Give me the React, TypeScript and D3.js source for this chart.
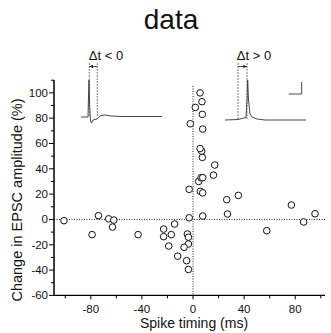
import React from "react";
import * as d3 from "d3";

const W = 331;
const H = 333;

// Scatter data: spike timing (ms) vs change in EPSC amplitude (%)
const spikeTiming = [
  -101, -79, -74, -66, -62, -63, -43, -23, -23, -19, -17, -14.4, -12, -4.4, -3.6,
  -3.6, -7, -5, -3.6, -3, 7.6, 27, 26.4, 35.5, 57.7, 77, 86.6, 95.5, -3, 5.7, 7.6,
  4.4, 6.3, 7.6, 16, 17, 7.3, 6.8, 5.5, 7.6, -2.1, 7.3, 1.8, 7, 5.5,
];
const epscChange = [
  -1, -12, 3, 0.5, -0.5, -6, -12, -7.6, -13.6, -21, -12, -3.6, -29, -11.5, -14,
  -19.4, -22, -32.6, -39.5, 1.3, 2.7, 4.3, 15.6, 19, -8.9, 11.4, -2, 4.5, 23.8, 22.2,
  21, 30, 33, 33, 35, 43, 49, 54, 56, 71.4, 75.6, 83, 88.5, 93, 100,
];

const xTickLabels = [-80, -40, 0, 40, 80];
const xMinorTicks = [-100, -60, -20, 20, 60, 100];
const yTickLabels = [-60, -40, -20, 0, 20, 40, 60, 80, 100];
const yMinorTicks = [-50, -30, -10, 10, 30, 50, 70, 90, 110];

// Inset traces (time, voltage) in arbitrary units
const traceLeft: [number, number][] = [
  [0, 0], [7, 0], [7.5, 20], [8, 37], [8.7, 10], [9.5, -4], [10.5, -6], [12, -3],
  [16, -2], [17, -1], [20, 1.5], [24, 2], [30, 1], [40, 0.5], [81, 0.5],
];
const traceRight: [number, number][] = [
  [0, 0], [13, 0.5], [21, 2.5], [22, 20], [22.7, 40], [23.5, 20], [25, 6], [27, 3],
  [32, 1], [40, 0], [81, 0],
];

export default function App() {
  const x = d3.scaleLinear().domain([-108.8, 103.3]).range([54, 325]);
  const y = d3.scaleLinear().domain([-60, 110]).range([295.4, 80.2]);

  const font = "Liberation Sans, Arial, sans-serif";

  const lxs = d3.scaleLinear().domain([0, 81]).range([81, 162]);
  const lys = d3.scaleLinear().domain([0, 37]).range([117, 80]);
  const rxs = d3.scaleLinear().domain([0, 81]).range([225, 306]);
  const rys = d3.scaleLinear().domain([0, 40]).range([120, 80]);
  const lineL = d3.line<[number, number]>().x((d) => lxs(d[0])).y((d) => lys(d[1]));
  const lineR = d3.line<[number, number]>().x((d) => rxs(d[0])).y((d) => rys(d[1]));

  const x0 = x(0);
  const y0 = y(0);
  const axisY = y(-60);
  const axisX = 54;

  return (
    <svg
      width={W}
      height={H}
      style={{ position: "absolute", left: 0, top: 0, background: "#fff" }}
    >
      <text x={171} y={29} fontSize={28} fontFamily={font} textAnchor="middle" fill="#111">
        data
      </text>

      {/* reference dotted lines */}
      <line x1={x0} x2={x0} y1={86} y2={axisY} stroke="#222" strokeWidth={1} strokeDasharray="1,1.5" />
      <line x1={axisX} x2={325} y1={y0} y2={y0} stroke="#222" strokeWidth={1} strokeDasharray="1,1.5" />

      {/* axes */}
      <line x1={axisX} x2={axisX} y1={80} y2={axisY} stroke="#000" strokeWidth={1.5} />
      <line x1={axisX} x2={325} y1={axisY} y2={axisY} stroke="#000" strokeWidth={1.3} />

      {yTickLabels.map((v) => (
        <g key={"yt" + v}>
          <line x1={axisX - 5} x2={axisX} y1={y(v)} y2={y(v)} stroke="#000" strokeWidth={1} />
          <text x={axisX - 6} y={y(v) + 4} fontSize={11.5} fontFamily={font} textAnchor="end" fill="#111">
            {v}
          </text>
        </g>
      ))}
      {yMinorTicks.map((v) => (
        <line key={"ym" + v} x1={axisX - 3} x2={axisX} y1={y(v)} y2={y(v)} stroke="#000" strokeWidth={1} />
      ))}
      {xTickLabels.map((v) => (
        <g key={"xt" + v}>
          <line x1={x(v)} x2={x(v)} y1={axisY} y2={axisY + 4} stroke="#000" strokeWidth={1} />
          <text x={x(v)} y={313} fontSize={11.5} fontFamily={font} textAnchor="middle" fill="#111">
            {v}
          </text>
        </g>
      ))}
      {xMinorTicks.map((v) => (
        <line key={"xm" + v} x1={x(v)} x2={x(v)} y1={axisY} y2={axisY + 3} stroke="#000" strokeWidth={1} />
      ))}

      <text
        transform={`translate(22,${200}) rotate(-90)`}
        fontSize={14.5}
        fontFamily={font}
        textAnchor="middle"
        fill="#111"
      >
        Change in EPSC amplitude (%)
      </text>
      <text x={194} y={328} fontSize={14} fontFamily={font} textAnchor="middle" fill="#111">
        Spike timing (ms)
      </text>

      {/* insets */}
      <path d={lineL(traceLeft) || ""} fill="none" stroke="#333" strokeWidth={0.9} />
      <path d={lineR(traceRight) || ""} fill="none" stroke="#333" strokeWidth={0.9} />
      <line x1={89.3} x2={89.3} y1={63} y2={117} stroke="#444" strokeWidth={0.7} strokeDasharray="2,1" />
      <line x1={97.3} x2={97.3} y1={63} y2={117} stroke="#444" strokeWidth={0.7} strokeDasharray="2,1" />
      <line x1={89.3} x2={97.3} y1={66.5} y2={66.5} stroke="#222" strokeWidth={0.8} />
      <path d="M89.6,66.5 L93,64.8 L93,68.2 Z" fill="#222" />
      <line x1={238} x2={238} y1={63} y2={120} stroke="#444" strokeWidth={0.7} strokeDasharray="2,1" />
      <line x1={247} x2={247} y1={63} y2={120} stroke="#444" strokeWidth={0.7} strokeDasharray="2,1" />
      <line x1={238} x2={247} y1={66.5} y2={66.5} stroke="#222" strokeWidth={0.8} />
      <path d="M246.7,66.5 L243.3,64.8 L243.3,68.2 Z" fill="#222" />
      <text x={106} y={60} fontSize={13} fontFamily={font} textAnchor="middle" fill="#111">
        Δt &lt; 0
      </text>
      <text x={254} y={60} fontSize={13} fontFamily={font} textAnchor="middle" fill="#111">
        Δt &gt; 0
      </text>
      {/* scale bar */}
      <path d="M301.7,82 L301.7,94 L288.7,94" fill="none" stroke="#333" strokeWidth={0.9} />

      {/* scatter points */}
      {spikeTiming.map((t, i) => (
        <circle
          key={"p" + i}
          cx={x(t)}
          cy={y(epscChange[i])}
          r={3.3}
          fill="#fff"
          stroke="#111"
          strokeWidth={1}
        />
      ))}
    </svg>
  );
}
